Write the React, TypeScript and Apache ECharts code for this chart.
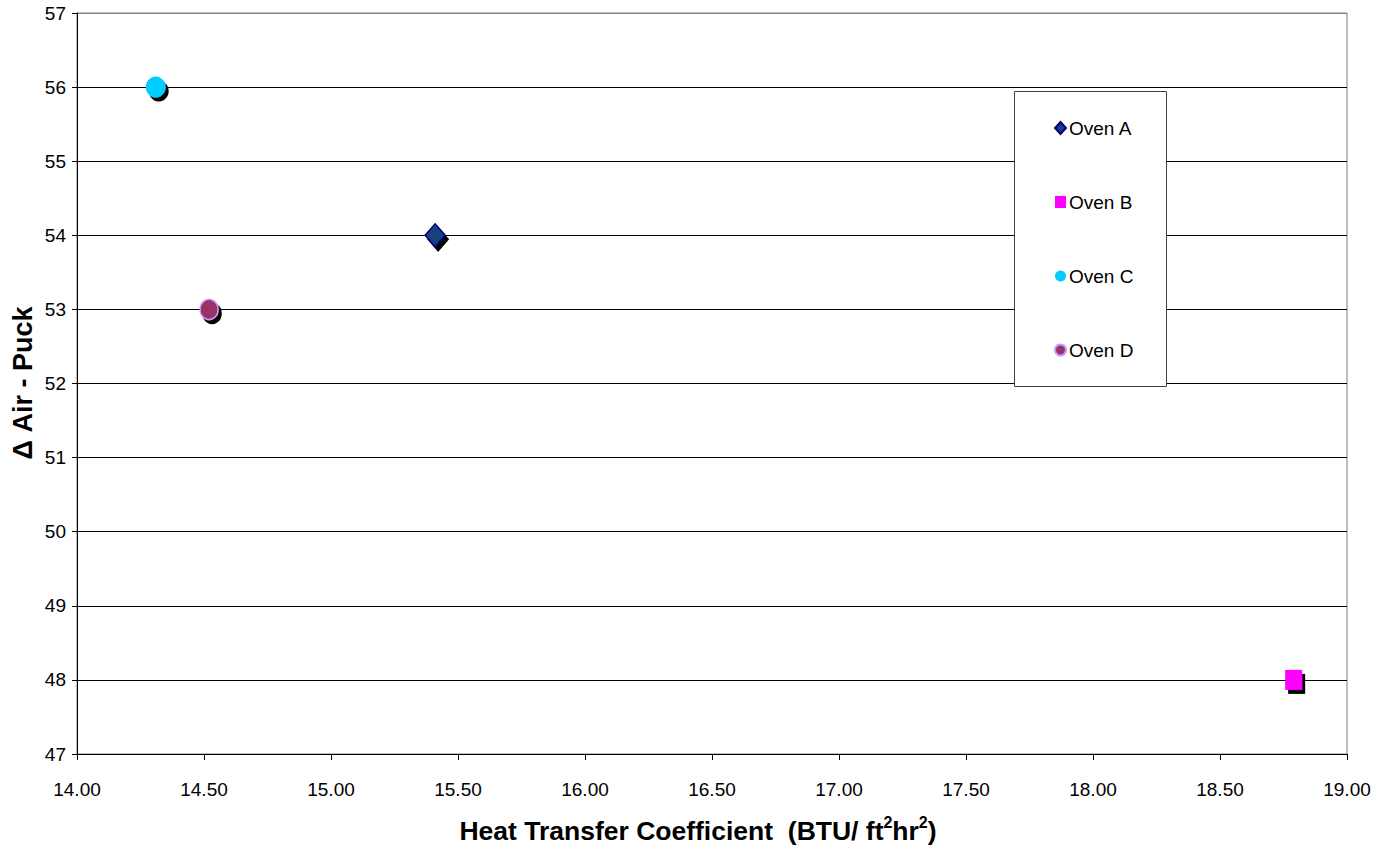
import React, { useEffect, useRef } from "react";
import * as echarts from "echarts";

const ovenNames = ["Oven A", "Oven B", "Oven C", "Oven D"];
const heatTransfer = [15.41, 18.79, 14.31, 14.52];
const deltaAirPuck = [54, 48, 56, 53];
const symbols = ["diamond", "rect", "circle", "circle"];
const symbolSizes: number[][] = [[20, 23], [17, 20], [20, 21], [18, 20]];
const fills = ["#12407e", "#ff00ff", "#00ccff", "#993366"];
const borders = ["#000080", "#ff00ff", "#00ccff", "#cc99ff"];

const X_MIN = 14, X_MAX = 19, X_STEP = 0.5;
const Y_MIN = 47, Y_MAX = 57, Y_STEP = 1;

const FONT = "'Liberation Sans', Arial, Helvetica, sans-serif";

export default function App() {
  const ref = useRef<HTMLDivElement>(null);
  useEffect(() => {
    if (!ref.current) return;
    const chart = echarts.init(ref.current, null, { renderer: "svg" });
    const nLines = Math.round((Y_MAX - Y_MIN) / Y_STEP) + 1;
    const splitColors = Array.from({ length: nLines }, (_, i) => (i === nLines - 1 ? "#808080" : "#000000"));
    chart.setOption({
      animation: false,
      backgroundColor: "#ffffff",
      grid: {
        left: 77, right: 40, top: 13, bottom: 91,
        show: true, borderColor: "#808080", borderWidth: 1, backgroundColor: "transparent",
      },
      xAxis: {
        type: "value", min: X_MIN, max: X_MAX, interval: X_STEP,
        axisLine: { show: true, onZero: false, lineStyle: { color: "#000", width: 1 } },
        axisTick: { show: true, length: 6, lineStyle: { color: "#000" } },
        splitLine: { show: false },
        axisLabel: {
          margin: 26, color: "#000", fontSize: 19, fontFamily: FONT,
          formatter: (v: number) => v.toFixed(2),
        },
      },
      yAxis: {
        type: "value", min: Y_MIN, max: Y_MAX, interval: Y_STEP,
        axisLine: { show: true, onZero: false, lineStyle: { color: "#000", width: 1 } },
        axisTick: { show: true, length: 5, lineStyle: { color: "#000" } },
        splitLine: { show: true, lineStyle: { color: splitColors, width: 1 } },
        axisLabel: { margin: 11, color: "#000", fontSize: 19, fontFamily: FONT },
      },
      legend: {
        orient: "vertical",
        left: 1054,
        top: 117,
        itemWidth: 11,
        itemHeight: 12,
        itemGap: 52,
        padding: 0,
        data: ovenNames,
        textStyle: { color: "#000", fontSize: 19, fontFamily: FONT, lineHeight: 22, padding: [0, 0, 0, -2] },
        itemStyle: { shadowBlur: 0, shadowOffsetX: 0, shadowOffsetY: 0, shadowColor: "rgba(0,0,0,0)" },
      },
      graphic: [
        {
          type: "rect", z: 3, silent: true,
          shape: { x: 1014.5, y: 91.5, width: 152, height: 295 },
          style: { fill: "#ffffff", stroke: "#404040", lineWidth: 1 },
        },
        {
          type: "text", z: 5, x: 698, y: 829,
          style: {
            text: "{b|Heat Transfer Coefficient  (BTU/ ft}{s|2}{b|hr}{s|2}{b|)}",
            align: "center", verticalAlign: "middle",
            rich: {
              b: { fontSize: 26.5, fontWeight: "bold", fontFamily: FONT, fill: "#000", lineHeight: 30, verticalAlign: "bottom" },
              s: { fontSize: 16, fontWeight: "bold", fontFamily: FONT, fill: "#000", lineHeight: 30, verticalAlign: "top" },
            },
          },
        },
        {
          type: "text", z: 5, x: 23, y: 383, rotation: Math.PI / 2,
          style: {
            text: "Δ Air - Puck",
            align: "center", verticalAlign: "middle",
            fontSize: 27, fontWeight: "bold", fontFamily: FONT, fill: "#000",
          },
        },
      ],
      series: ovenNames.map((name, i) => ({
        name,
        type: "scatter",
        symbol: symbols[i],
        symbolSize: symbolSizes[i],
        data: [[heatTransfer[i], deltaAirPuck[i]]],
        itemStyle: {
          color: fills[i],
          borderColor: borders[i],
          borderWidth: i === 0 || i === 3 ? 1.5 : 0,
          shadowColor: "#000000",
          shadowBlur: 0,
          shadowOffsetX: 3,
          shadowOffsetY: 4,
          opacity: 1,
        },
        emphasis: { disabled: true },
      })),
    });
    return () => chart.dispose();
  }, []);
  return <div ref={ref} style={{ position: "fixed", left: 0, top: 0, width: 1387, height: 845 }} />;
}
